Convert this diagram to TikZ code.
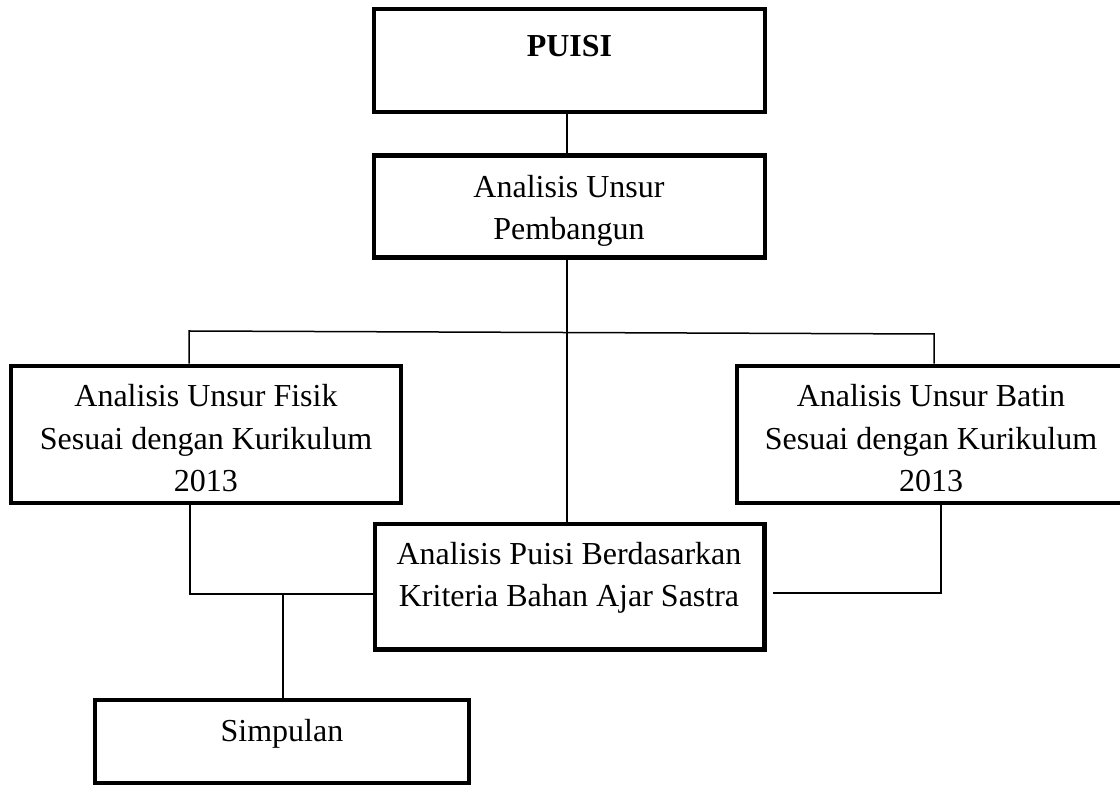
\documentclass[tikz,border=0pt]{standalone}
\usepackage{fontspec}
\setmainfont{Liberation Serif}
\usetikzlibrary{positioning}

\begin{document}
\begin{tikzpicture}[x=0.5pt,y=-0.5pt,
  box/.style={draw, line width=2.3pt, rectangle, inner sep=0pt},
  txt/.style={align=center, inner sep=0pt, anchor=base, font=\fontsize{16}{21.25}\selectfont},
  link/.style={line width=0.75pt}]
  \clip (0,0) rectangle (1120,785);
  % boxes
  \node[box, minimum width=195.5pt, minimum height=51.5pt] (puisi) at (569.5,60.5) {};
  \node[box, minimum width=195.5pt, minimum height=51pt] (pembangun) at (569.5,206.5) {};
  \node[box, minimum width=195pt, minimum height=68.5pt] (fisik) at (206,434.5) {};
  \node[box, minimum width=195pt, minimum height=68.5pt] (batin) at (932,434.5) {};
  \node[box, minimum width=194.75pt, minimum height=62.75pt] (kriteria) at (569.75,586.75) {};
  \node[box, minimum width=187pt, minimum height=41.5pt] (simpulan) at (282,741.5) {};
  % texts
  \node[txt, font=\fontsize{16}{21.25}\selectfont\bfseries] (puisi text) at (569.5,57) {PUISI};
  \node[txt] (pembangun text) at (569,240) {Analisis Unsur\\Pembangun};
  \node[txt] (fisik text) at (206,492) {Analisis Unsur Fisik\\Sesuai dengan Kurikulum\\2013};
  \node[txt] (batin text) at (931,492) {Analisis Unsur Batin\\Sesuai dengan Kurikulum\\2013};
  \node[txt] (kriteria text) at (569,607) {Analisis Puisi Berdasarkan\\Kriteria Bahan Ajar Sastra};
  \node[txt] (simpulan text) at (282,742) {Simpulan};
  % connectors
  \coordinate (spine) at (567,0);
  \draw[link] (puisi.south -| spine) -- (pembangun.north -| spine);
  \draw[link] (pembangun.south -| spine) -- (kriteria.north -| spine);
  \coordinate (barL) at (189,331);
  \coordinate (barR) at (934,334);
  \draw[link] (fisik.north -| barL) -- (barL) -- (barR) -- (batin.north -| barR);
  \coordinate (joinL) at (190,594);
  \draw[link] (fisik.south -| joinL) -- (joinL) -- (kriteria.west |- joinL);
  \coordinate (drop) at (283,594);
  \draw[link] (drop) -- (simpulan.north -| drop);
  \coordinate (joinR) at (941,593);
  \draw[link] (batin.south -| joinR) -- (joinR) -- ([xshift=3pt]kriteria.east |- joinR);
\end{tikzpicture}
\end{document}
